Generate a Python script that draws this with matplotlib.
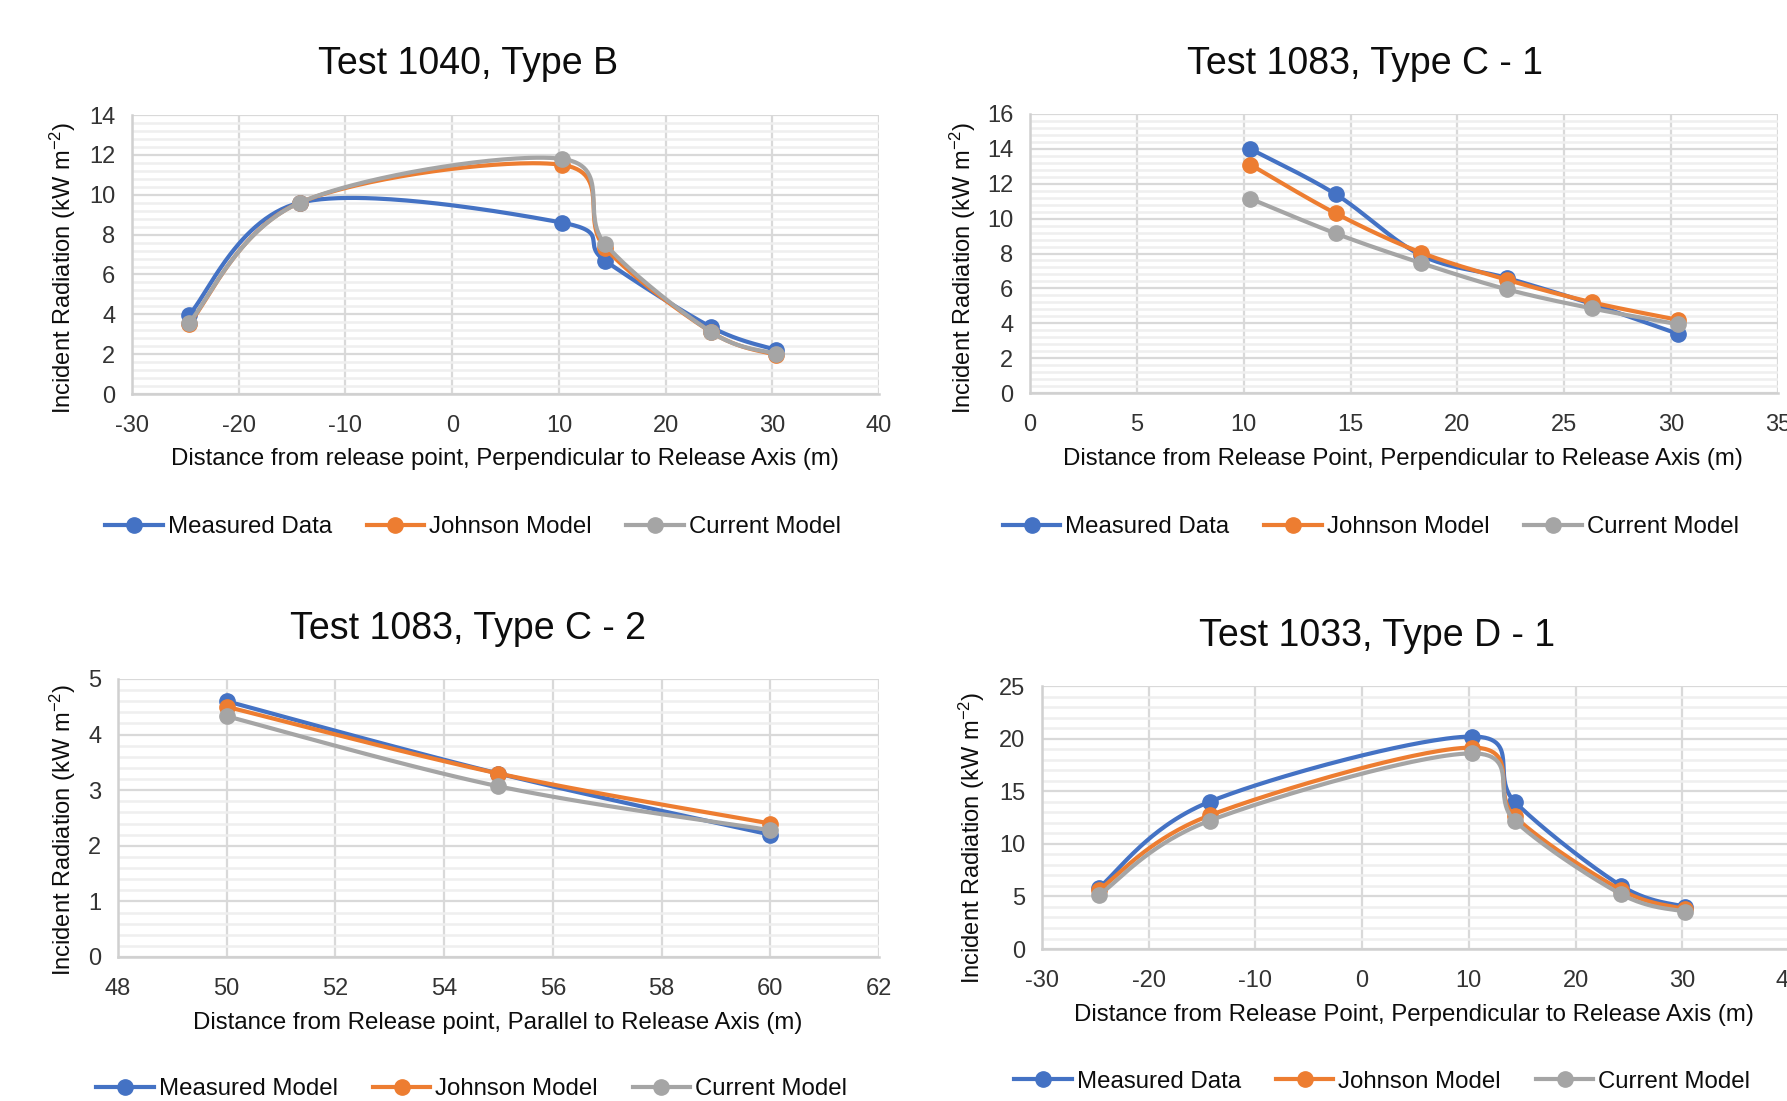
import matplotlib as mpl
mpl.use("Agg")
import matplotlib.pyplot as plt
from matplotlib.ticker import MultipleLocator, AutoMinorLocator
from matplotlib.lines import Line2D
import numpy as np

plt.rcParams['font.family'] = ['Liberation Sans', 'DejaVu Sans']
plt.rcParams['mathtext.fontset'] = 'custom'
plt.rcParams['mathtext.rm'] = 'Liberation Sans'
plt.rcParams['mathtext.it'] = 'Liberation Sans:italic'
plt.rcParams['axes.unicode_minus'] = False

BLUE, ORANGE, GREY = '#4472C4', '#ED7D31', '#A5A5A5'

# Test 1040, Type B
x_b = [-24.7, -14.3, 10.3, 14.3, 24.3, 30.3]
meas_b = [3.95, 9.6, 8.6, 6.7, 3.35, 2.22]
john_b = [3.5, 9.6, 11.5, 7.35, 3.1, 1.97]
curr_b = [3.55, 9.6, 11.8, 7.55, 3.1, 2.03]

# Test 1083, Type C - 1
x_c1 = [10.3, 14.3, 18.3, 22.3, 26.3, 30.3]
meas_c1 = [14.0, 11.4, 7.9, 6.6, 5.1, 3.4]
john_c1 = [13.1, 10.3, 8.05, 6.5, 5.2, 4.2]
curr_c1 = [11.15, 9.15, 7.45, 5.95, 4.85, 3.95]

# Test 1083, Type C - 2
x_c2 = [50, 55, 60]
meas_c2 = [4.6, 3.3, 2.2]
john_c2 = [4.5, 3.3, 2.4]
curr_c2 = [4.33, 3.07, 2.28]

# Test 1033, Type D - 1
x_d = [-24.7, -14.3, 10.3, 14.3, 24.3, 30.3]
meas_d = [5.8, 14.0, 20.2, 14.0, 6.0, 4.0]
john_d = [5.6, 12.7, 19.15, 12.6, 5.6, 3.8]
curr_d = [5.1, 12.2, 18.6, 12.2, 5.2, 3.55]


def smooth(ax, x, y, n=60):
    # excel-style smoothed line: catmull-rom bezier in screen space
    x0, x1 = ax.get_xlim()
    y0, y1 = ax.get_ylim()
    bb = ax.get_position()
    sx = bb.width * 17.87 / (x1 - x0)
    sy = bb.height * 11.01 / (y1 - y0)
    p = np.column_stack([(np.array(x) - x0) * sx, (np.array(y) - y0) * sy])
    pts = [p[0]]
    for i in range(len(p) - 1):
        pm = p[i - 1] if i > 0 else p[i]
        pn = p[i + 2] if i + 2 < len(p) else p[i + 1]
        c1 = p[i] + (p[i + 1] - pm) / 6
        c2 = p[i + 1] - (pn - p[i]) / 6
        t = np.linspace(0, 1, n)[1:, None]
        seg = ((1 - t) ** 3 * p[i] + 3 * (1 - t) ** 2 * t * c1
               + 3 * (1 - t) * t ** 2 * c2 + t ** 3 * p[i + 1])
        pts.extend(seg)
    pts = np.array(pts)
    return pts[:, 0] / sx + x0, pts[:, 1] / sy + y0


fig = plt.figure(figsize=(17.87, 11.01), dpi=100)

panels = [
    ([0.0739, 0.6421, 0.418, 0.2534], x_b, [meas_b, john_b, curr_b], (-30, 40, 10), (0, 14, 2),
     'Test 1040, Type B', (0.262, 0.942),
     'Distance from release point, Perpendicular to Release Axis (m)', (0.2826, 0.583),
     (0.035, 0.7566), 'Measured Data', (0.2647, 0.521)),
    ([0.5764, 0.643, 0.4186, 0.2535], x_c1, [meas_c1, john_c1, curr_c1], (0, 35, 5), (0, 16, 2),
     'Test 1083, Type C - 1', (0.764, 0.942),
     'Distance from Release Point, Perpendicular to Release Axis (m)', (0.785, 0.583),
     (0.539, 0.7566), 'Measured Data', (0.767, 0.521)),
    ([0.066, 0.1308, 0.4259, 0.2525], x_c2, [meas_c2, john_c2, curr_c2], (48, 62, 2), (0, 5, 1),
     'Test 1083, Type C - 2', (0.262, 0.429),
     'Distance from Release point, Parallel to Release Axis (m)', (0.2787, 0.0706),
     (0.035, 0.246), 'Measured Model', (0.264, 0.0105)),
    ([0.5831, 0.138, 0.418, 0.2389], x_d, [meas_d, john_d, curr_d], (-30, 40, 10), (0, 25, 5),
     'Test 1033, Type D - 1', (0.7704, 0.422),
     'Distance from Release Point, Perpendicular to Release Axis (m)', (0.7914, 0.078),
     (0.544, 0.239), 'Measured Data', (0.7735, 0.0175)),
]

TXT = '#0d0d0d'

for rect, xs, series, (xa, xb, xst), (ya, yb, yst), title, tpos, xlabel, xlpos, ylpos, first, lpos in panels:
    ax = fig.add_axes(rect)
    ax.set_xlim(xa, xb)
    ax.set_ylim(ya, yb)
    ax.xaxis.set_major_locator(MultipleLocator(xst))
    ax.yaxis.set_major_locator(MultipleLocator(yst))
    ax.yaxis.set_minor_locator(AutoMinorLocator(5))
    ax.grid(True, which='major', color='#D9D9D9', lw=1.6)
    ax.grid(True, which='minor', axis='y', color='#EFEFEF', lw=1.8)
    ax.set_axisbelow(True)
    for s in ax.spines.values():
        s.set_visible(False)
    for side in ['bottom', 'left']:
        ax.spines[side].set_visible(True)
        ax.spines[side].set_color('#D0D0D0')
        ax.spines[side].set_linewidth(1.8)
    ax.tick_params(which='both', length=0, labelsize=17, colors='#333333', pad=12)
    ax.tick_params(axis='x', pad=15)
    for ys, c in zip(series, [BLUE, ORANGE, GREY]):
        sx_, sy_ = smooth(ax, xs, ys)
        ax.plot(sx_, sy_, color=c, lw=3.0, solid_capstyle='round', clip_on=False)
        ax.plot(xs, ys, 'o', color=c, ms=11, clip_on=False)

    fig.text(tpos[0], tpos[1], title, ha='center', va='center', fontsize=27, color=TXT)
    fig.text(xlpos[0], xlpos[1], xlabel, ha='center', va='center', fontsize=17.3, color=TXT)
    fig.text(ylpos[0], ylpos[1], 'Incident Radiation (kW m$^{-2}$)', ha='center', va='center',
             rotation=90, fontsize=17, color=TXT)

    handles = [Line2D([], [], color=c, lw=3.0, marker='o', ms=11) for c in [BLUE, ORANGE, GREY]]
    fig.legend(handles, [first, 'Johnson Model', 'Current Model'], loc='center',
               bbox_to_anchor=lpos, ncol=3, frameon=False, fontsize=17.3,
               handlelength=2.4, handletextpad=0.2, columnspacing=1.45, labelcolor=TXT)

plt.savefig("out.png")
